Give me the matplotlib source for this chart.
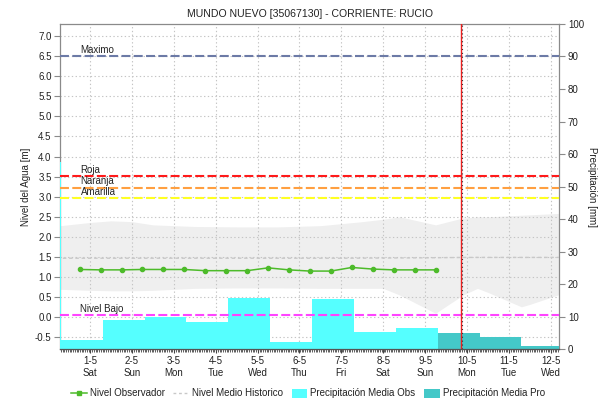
import matplotlib
matplotlib.use("Agg")
import matplotlib.pyplot as plt
from matplotlib.lines import Line2D
from matplotlib.patches import Patch
import numpy as np

plt.rcParams['font.family'] = ['Liberation Sans', 'DejaVu Sans']

# ---------------- data ----------------
title = "MUNDO NUEVO [35067130] - CORRIENTE: RUCIO"
day_labels = ["1-5\nSat", "2-5\nSun", "3-5\nMon", "4-5\nTue", "5-5\nWed", "6-5\nThu",
              "7-5\nFri", "8-5\nSat", "9-5\nSun", "10-5\nMon", "11-5\nTue", "12-5\nWed"]
day_pos = list(range(12))

# observed level (every 12 h), days relative to 1-5
level_t = [-0.25, 0.25, 0.75, 1.25, 1.75, 2.25, 2.75, 3.25, 3.75, 4.25, 4.75, 5.25,
           5.75, 6.25, 6.75, 7.25, 7.75, 8.25]
level_obs = [1.19, 1.18, 1.18, 1.19, 1.19, 1.19, 1.16, 1.16, 1.16, 1.23, 1.18, 1.15,
             1.15, 1.24, 1.20, 1.18, 1.18, 1.18]

# historical band (min / max) and historical mean
band_t = [-0.8, 0.0, 0.5, 1.0, 1.5, 2.5, 3.5, 4.5, 5.5, 6.5, 7.0, 7.4, 8.25, 8.9, 9.25, 9.5, 10.3, 10.5, 11.3]
band_hi = [2.27, 2.36, 2.40, 2.38, 2.30, 2.26, 2.25, 2.25, 2.28, 2.38, 2.44, 2.50, 2.30, 2.47, 2.50, 2.50, 2.54, 2.55, 2.59]
band_lo = [0.70, 0.67, 0.66, 0.66, 0.67, 0.72, 0.73, 0.73, 0.72, 0.72, 0.72, 0.55, 0.10, 0.55, 0.72, 0.62, 0.26, 0.32, 0.60]
mean_t = [-0.8, 2.0, 4.0, 6.0, 8.0, 9.0, 10.0, 11.3]
mean_hist = [1.47, 1.47, 1.47, 1.47, 1.48, 1.49, 1.49, 1.49]

# precipitation (mm): observed and forecast, per day
obs_days = [-1, 0, 1, 2, 3, 4, 5, 6, 7, 8]
precip_obs = [57.5, 2.9, 9.0, 9.9, 8.4, 15.7, 2.2, 15.3, 5.3, 6.6]
pro_days = [9, 10, 11]
precip_pro = [5.0, 3.6, 0.9]

# thresholds
thr_names = ["Maximo", "Roja", "Naranja", "Amarilla", "Nivel Bajo"]
thr_values = [6.5, 3.51, 3.23, 2.96, 0.05]
thr_colors = ["#6c7aa6", "#ff1a1a", "#ffa040", "#ffff22", "#ff44ff"]

now_day = 8.86

# ---------------- figure ----------------
fig = plt.figure(figsize=(5.98, 4.04), dpi=100)
rect = [0.1003, 0.1361, 0.8353, 0.8045]
ax1 = fig.add_axes(rect)
ax2 = ax1.twinx()
ax3 = ax1.twinx()

xlim = (-0.72, 11.21)
ylim1 = (-0.79, 7.30)
ylim2 = (0, 100)

grid_col = "#c4c4c4"
spine_col = "#8a8a8a"
txt_col = "#222222"

# bottom layer: band + grid
ax1.fill_between(band_t, band_lo, band_hi, color="#efefef", lw=0, zorder=0.3)
ax1.set_axisbelow(True)
ax1.grid(True, color=grid_col, linestyle=(0, (1.2, 2.2)), linewidth=0.8)
ax1.set_xlim(*xlim)
ax1.set_ylim(*ylim1)
ax1.set_yticks(np.arange(-0.5, 7.01, 0.5))
ax1.set_yticklabels([f"{v:.1f}" for v in np.arange(-0.5, 7.01, 0.5)])
ax1.set_xticks(day_pos)
ax1.set_xticklabels(day_labels, linespacing=1.2)
ax1.set_xticks(np.arange(-0.70, 11.22, 1 / 24), minor=True)
ax1.tick_params(axis='x', which='major', length=3, color='#444444', labelsize=7, pad=2, colors=txt_col)
ax1.tick_params(axis='x', which='minor', length=2, width=0.6, color='#444444')
ax1.tick_params(axis='y', length=4, color=spine_col, labelsize=7, colors=txt_col, pad=2)
for s in ax1.spines.values():
    s.set_color(spine_col)
    s.set_linewidth(0.9)
ax1.set_ylabel("Nivel del Agua [m]", fontsize=7, color=txt_col, labelpad=3)
ax1.set_title(title, fontsize=7.6, color=txt_col, pad=5)

# middle layer: precipitation bars
ax2.bar([d - 0.2 for d in obs_days], precip_obs, width=1.0, color="#55ffff", lw=0, zorder=1)
ax2.bar([d - 0.2 for d in pro_days], precip_pro, width=1.0, color="#44c8c8", lw=0, zorder=1)
ax2.set_xlim(*xlim)
ax2.set_ylim(*ylim2)
ax2.set_yticks(range(0, 101, 10))
ax2.tick_params(axis='y', length=4, color=spine_col, labelsize=7, colors=txt_col, pad=2)
for s in ax2.spines.values():
    s.set_visible(False)
ax2.set_ylabel("Precipitación [mm]", fontsize=7, color=txt_col, rotation=270, labelpad=2,
               va='bottom')

# top layer: lines
ax3.set_xlim(*xlim)
ax3.set_ylim(*ylim1)
ax3.yaxis.set_visible(False)
for k, s in ax3.spines.items():
    s.set_visible(k == 'bottom')
ax3.spines['bottom'].set_color('#555555')
ax3.spines['bottom'].set_linewidth(0.9)

ax3.plot(mean_t, mean_hist, color="#c8c8c8", lw=1.0, linestyle=(0, (2.5, 2)), zorder=2)
for name, val, col in zip(thr_names, thr_values, thr_colors):
    ax3.axhline(val, color=col, lw=1.5, linestyle=(0, (4.3, 1.6)), zorder=3)
    ax3.text(-0.23, val + 0.04, name, fontsize=7, color=txt_col, ha='left', va='bottom', zorder=4)
ax3.plot(level_t, level_obs, color="#4dbb2a", lw=1.1, marker='o', markersize=3, zorder=5)
ax3.axvline(now_day, color="#ee2020", lw=1.0, zorder=6)
ax3.axvline(now_day + 0.02, color="#333333", lw=0.8, linestyle=(0, (1, 2.5)), zorder=6)

# legend
handles = [
    Line2D([], [], color="#4dbb2a", lw=1.1, marker='s', markersize=2.5),
    Line2D([], [], color="#c8c8c8", lw=1.0, linestyle=(0, (2, 2))),
    Patch(facecolor="#55ffff", edgecolor='none'),
    Patch(facecolor="#44c8c8", edgecolor='none'),
]
labels = ["Nivel Observador", "Nivel Medio Historico", "Precipitación Media Obs", "Precipitación Media Pro"]
fig.legend(handles, labels, loc='center', bbox_to_anchor=(0.515, 0.026), ncol=4, frameon=False,
           fontsize=7.0, handlelength=1.6, handletextpad=0.3, columnspacing=0.9, handleheight=1.0,
           labelcolor=txt_col)

fig.savefig("out.png", dpi=100)
